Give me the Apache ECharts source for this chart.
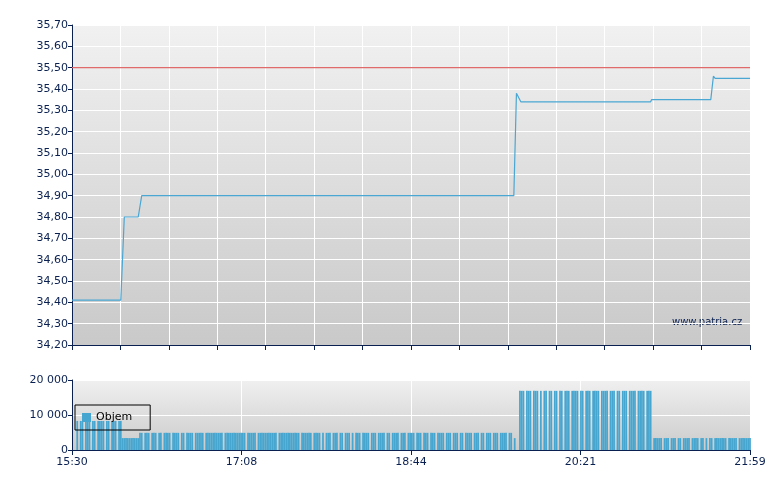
<!DOCTYPE html>
<html>
<head>
<meta charset="utf-8">
<script src="https://cdn.jsdelivr.net/npm/echarts@6/dist/echarts.min.js"></script>
<style>html,body{margin:0;padding:0;background:#fff}#main{width:780px;height:490px}</style>
</head>
<body>
<div id="main"></div>
<script>
// minutes since 15:30, session ends 21:59 (389 min)
const timeLabels = ['15:30', '17:08', '18:44', '20:21', '21:59'];
const limitPrice = 35.5;
const priceSteps = [
  [0, 34.41], [28, 34.41], [30, 34.80], [38, 34.80], [40, 34.90],
  [253.5, 34.90], [255, 35.38], [256, 35.38], [257.5, 35.34], [332, 35.34],
  [332.5, 35.35], [366.5, 35.35], [368, 35.46], [369, 35.45], [389, 35.45]
];
const volA = [0,0,0,8300,0,8300,8300,0,8300,8300,8300,0,8300,8300,0,8300,8300,8300,8300,0,8300,8300,0,8300,8300,8300,0,8300,8300];
const volB = [3400,3400,3400,3400,3400,3400,3400,3400,3400,3400];
const volC = [
  4900,4900,0,4900,4900,4900,0,4900,4900,4900,
  0,4900,4900,0,4900,4900,4900,4900,0,4900,
  4900,4900,4900,0,4900,4900,0,4900,4900,4900,
  4900,0,4900,4900,4900,4900,4900,0,4900,4900,
  4900,4900,4900,4900,4900,4900,4900,4900,0,4900,
  4900,4900,4900,4900,4900,4900,4900,4900,4900,4900,
  4900,0,4900,4900,4900,4900,4900,0,4900,4900,
  4900,4900,4900,4900,4900,4900,4900,4900,4900,0,
  4900,4900,4900,4900,4900,4900,4900,4900,4900,4900,
  4900,4900,0,4900,4900,4900,4900,4900,4900,0,
  4900,4900,4900,4900,0,4900,0,4900,4900,4900,
  0,4900,4900,4900,0,4900,4900,0,4900,4900,
  4900,0,4900,0,4900,4900,4900,0,4900,4900,
  4900,4900,0,4900,4900,4900,0,4900,4900,4900,
  4900,0,4900,4900,0,4900,4900,4900,4900,0,
  4900,4900,4900,0,4900,4900,4900,4900,0,4900,
  4900,4900,0,4900,4900,4900,0,4900,4900,4900,
  0,4900,4900,4900,4900,0,4900,4900,4900,0,
  4900,4900,4900,0,4900,4900,0,4900,4900,4900,
  4900,0,4900,4900,4900,0,4900,4900,0,4900,
  4900,4900,0,4900,4900,4900,0,4900,4900,4900,
  4900,0,4900,4900,0,3400,0,
  0
];
const volD = [
  16900,16900,16900,0,16900,16900,16900,0,16900,16900,
  16900,0,16900,0,16900,16900,0,16900,16900,0,
  16900,16900,0,16900,16900,0,16900,16900,16900,0,
  16900,16900,16900,16900,0,16900,16900,0,16900,16900,
  16900,0,16900,16900,16900,16900,0,16900,16900,16900,
  16900,0,16900,16900,16900,0,16900,16900,0,16900,
  16900,16900,0,16900,16900,16900,16900,0,16900,16900,
  16900,16900,0,16900,16900,16900
];
const volE = [
  0,3400,3400,3400,3400,3400,0,3400,3400,3400,
  0,3400,3400,3400,0,3400,3400,0,3400,3400,
  3400,3400,0,3400,3400,3400,3400,0,3400,3400,
  0,3400,0,3400,3400,0,3400,3400,3400,3400,
  3400,3400,3400,0,3400,3400,3400,3400,3400,0,
  3400,3400,3400,3400,3400,3400,3400
];

const volume = volA.concat(volB, volC, volD, volE)
  .map((v, i) => [i, v]).filter(d => d[1] > 0);

const navy = '#0a2050';
const font = 'DejaVu Sans';
const bg = (a, b) => new echarts.graphic.LinearGradient(0, 0, 0, 1, [
  { offset: 0, color: a }, { offset: 1, color: b }]);

const chart = echarts.init(document.getElementById('main'));
chart.setOption({
  animation: false,
  textStyle: { fontFamily: font },
  grid: [
    { left: 72, right: 30, top: 25, height: 320, show: true, borderWidth: 0, backgroundColor: bg('#f1f1f1', '#c9c9c9') },
    { left: 72, right: 30, top: 380, height: 70, show: true, borderWidth: 0, backgroundColor: bg('#f0f0f0', '#cbcbcb') }
  ],
  legend: {
    data: ['Objem'], left: 75, top: 405, orient: 'vertical',
    borderColor: '#000', borderWidth: 1, padding: [7, 18, 7, 7],
    itemWidth: 9, itemHeight: 9, icon: 'rect', itemGap: 4,
    textStyle: { fontFamily: font, fontSize: 11, color: '#000' }
  },
  xAxis: [
    {
      type: 'value', gridIndex: 0, min: 0, max: 389, interval: 389 / 14,
      axisLine: { show: true, onZero: false, lineStyle: { color: navy } },
      axisTick: { show: true, length: 5, lineStyle: { color: navy } },
      axisLabel: { show: false },
      splitLine: { show: true, lineStyle: { color: '#fff', width: 1 } }
    },
    {
      type: 'value', gridIndex: 1, min: 0, max: 389, interval: 389 / 4,
      axisLine: { show: true, onZero: false, lineStyle: { color: navy } },
      axisTick: { show: true, length: 5, lineStyle: { color: navy } },
      axisLabel: {
        color: navy, fontSize: 11, margin: 7,
        formatter: v => timeLabels[Math.round(v / (389 / 4))]
      },
      splitLine: { show: true, lineStyle: { color: '#fff', width: 1 } }
    }
  ],
  yAxis: [
    {
      type: 'value', gridIndex: 0, min: 34.2, max: 35.7, interval: 0.1,
      axisLine: { show: true, lineStyle: { color: navy } },
      axisTick: { show: true, length: 4, lineStyle: { color: navy } },
      axisLabel: { color: navy, fontSize: 11, margin: 4, formatter: v => v.toFixed(2).replace('.', ',') },
      splitLine: { lineStyle: { color: '#fff', width: 1 } }
    },
    {
      type: 'value', gridIndex: 1, min: 0, max: 20000, interval: 10000,
      axisLine: { show: true, lineStyle: { color: navy } },
      axisTick: { show: true, length: 4, lineStyle: { color: navy } },
      axisLabel: { color: navy, fontSize: 11, margin: 4, formatter: v => v === 0 ? '0' : (v / 1000) + ' 000' },
      splitLine: { lineStyle: { color: '#fff', width: 1 } }
    }
  ],
  series: [
    {
      name: 'Limit', type: 'line', xAxisIndex: 0, yAxisIndex: 0, symbol: 'none',
      data: [[0, limitPrice], [389, limitPrice]],
      lineStyle: { color: '#e06a6a', width: 1.2 }
    },
    {
      name: 'Cena', type: 'line', xAxisIndex: 0, yAxisIndex: 0, symbol: 'none',
      data: priceSteps,
      lineStyle: { color: '#4aa6d2', width: 1.2 }
    },
    {
      name: 'Objem', type: 'bar', xAxisIndex: 1, yAxisIndex: 1,
      data: volume, barWidth: 1.75,
      itemStyle: { color: '#46a6d0', borderColor: '#000', borderWidth: 0 }
    }
  ],
  graphic: [{
    type: 'text', left: 672, top: 317,
    style: { text: 'www.patria.cz', fill: navy, font: '10px ' + font }
  }]
});
</script>
</body>
</html>
